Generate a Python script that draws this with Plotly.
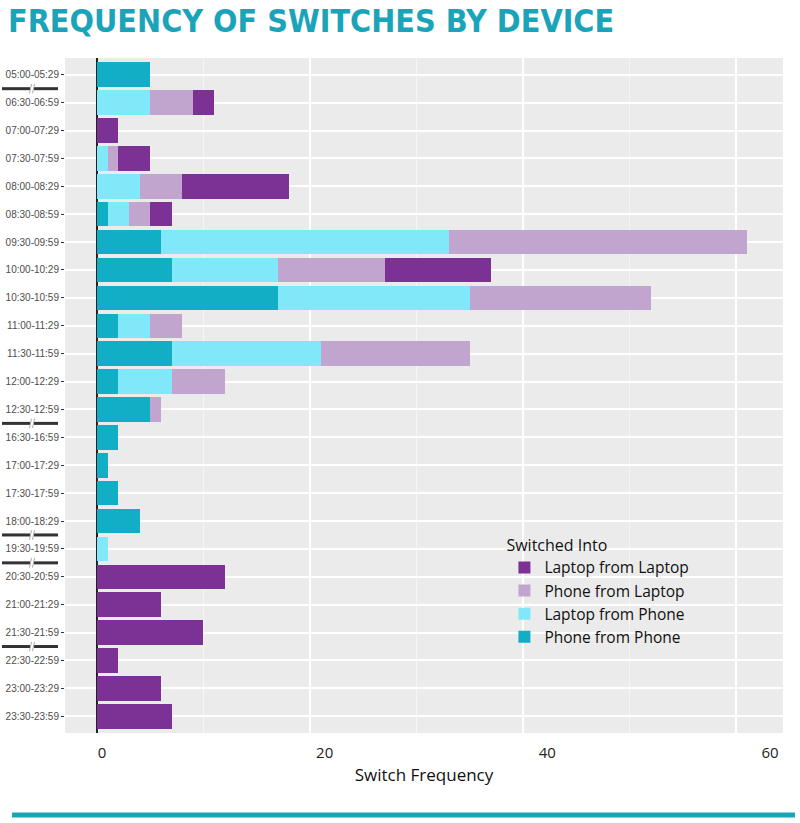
import plotly.graph_objects as go

categories = ["05:00-05:29", "06:30-06:59", "07:00-07:29", "07:30-07:59", "08:00-08:29",
              "08:30-08:59", "09:30-09:59", "10:00-10:29", "10:30-10:59", "11:00-11:29",
              "11:30-11:59", "12:00-12:29", "12:30-12:59", "16:30-16:59", "17:00-17:29",
              "17:30-17:59", "18:00-18:29", "19:30-19:59", "20:30-20:59", "21:00-21:29",
              "21:30-21:59", "22:30-22:59", "23:00-23:29", "23:30-23:59"]

phone_from_phone = [5, 0, 0, 0, 0, 1, 6, 7, 17, 2, 7, 2, 5, 2, 1, 2, 4, 0, 0, 0, 0, 0, 0, 0]
laptop_from_phone = [0, 5, 0, 1, 4, 2, 27, 10, 18, 3, 14, 5, 0, 0, 0, 0, 0, 1, 0, 0, 0, 0, 0, 0]
phone_from_laptop = [0, 4, 0, 1, 4, 2, 28, 10, 17, 3, 14, 5, 1, 0, 0, 0, 0, 0, 0, 0, 0, 0, 0, 0]
laptop_from_laptop = [0, 2, 2, 3, 10, 2, 0, 10, 0, 0, 0, 0, 0, 0, 0, 0, 0, 0, 12, 6, 10, 2, 6, 7]

series_names = ["Phone from Phone", "Laptop from Phone", "Phone from Laptop", "Laptop from Laptop"]
series_colors = ["#11AEC6", "#80E8F8", "#C2A5CF", "#7B3294"]
x_tick_values = [0, 20, 40, 60]
break_after = [0, 12, 16, 17, 20]  # axis-break markers drawn between these rows and the next

W, H = 800, 823
ML, MR, MT, MB = 65, 17, 58, 90

fig = go.Figure()
for name, vals, col in zip(series_names,
                           [phone_from_phone, laptop_from_phone, phone_from_laptop, laptop_from_laptop],
                           series_colors):
    fig.add_trace(go.Bar(
        y=categories, x=[v if v else None for v in vals], name=name, orientation="h",
        marker=dict(color=col, line=dict(width=0)),
    ))

fig.update_layout(
    barmode="stack",
    bargap=0.12,
    width=W, height=H,
    hovermode=False,
    margin=dict(l=ML, r=MR, t=MT, b=MB, autoexpand=False),
    paper_bgcolor="white",
    plot_bgcolor="#EBEBEB",
    title=dict(text="<b>FREQUENCY OF SWITCHES BY DEVICE</b>", x=0.01, xanchor="left",
               xref="container", y=1 - 21 / H, yanchor="middle", yref="container",
               font=dict(family="DejaVu Sans Condensed, DejaVu Sans, sans-serif",
                         size=32, color="#1BA4B9")),
    legend=dict(title=dict(text="Switched Into", font=dict(size=16, color="#111")),
                traceorder="reversed", x=0.612, xanchor="left", y=0.3007, yanchor="top",
                bgcolor="rgba(0,0,0,0)", font=dict(family="Open Sans", size=15.5, color="#111"),
                itemwidth=30),
    xaxis=dict(range=[-3.0, 64.4], tick0=0, dtick=20, showticklabels=False,
               showgrid=True, gridcolor="white", gridwidth=1.5,
               minor=dict(dtick=10, tick0=0, showgrid=True, gridcolor="#F6F6F6", gridwidth=0.8),
               zeroline=True, zerolinecolor="#222", zerolinewidth=2, automargin=False),
    xaxis2=dict(overlaying="x", anchor="y", side="bottom", range=[-3.32, 61.17],
                tickvals=x_tick_values, showgrid=False, zeroline=False, automargin=False,
                ticks="outside", ticklen=6, tickcolor="rgba(0,0,0,0)",
                tickfont=dict(family="Open Sans", size=15, color="#222"),
                title=dict(text="Switch Frequency", standoff=8,
                           font=dict(family="Open Sans", size=17, color="#111"))),
    yaxis=dict(type="category", categoryorder="array", categoryarray=categories,
               range=[len(categories) - 0.4, -0.6], automargin=False,
               showgrid=True, gridcolor="white", gridwidth=1.5,
               ticks="outside", ticklen=3, tickcolor="#333",
               tickfont=dict(family="Liberation Sans, Arial", size=10, color="#4D4D4D")),
    showlegend=True,
)

# empty trace so the label axis is rendered
fig.add_trace(go.Scatter(x=[], y=[], xaxis="x2", showlegend=False, hoverinfo="skip"))

# axis-break markers (x in paper units relative to the plot area)
pw = W - ML - MR
ph = H - MT - MB
def px(p):
    return (p - ML) / pw

for b in break_after:
    yb = b + 0.5
    fig.add_shape(type="line", xref="paper", yref="y", x0=px(2), x1=px(30), y0=yb, y1=yb,
                  line=dict(color="#333", width=3))
    fig.add_shape(type="line", xref="paper", yref="y", x0=px(34), x1=px(58), y0=yb, y1=yb,
                  line=dict(color="#333", width=3))
    for dx in (0, 3):
        fig.add_shape(type="line", xref="paper", yref="y",
                      x0=px(29.5 + dx), x1=px(31.5 + dx), y0=yb + 0.17, y1=yb - 0.17,
                      line=dict(color="#AAA", width=1))

# decorative teal rule at the bottom
yr = (H - MB - 815) / ph
fig.add_shape(type="line", xref="paper", yref="paper", x0=px(12), x1=px(795),
              y0=yr, y1=yr, line=dict(color="#1BA4B9", width=5))

fig.write_html("out.html", config={"displayModeBar": False},
               post_script="document.body.style.margin='0';")
